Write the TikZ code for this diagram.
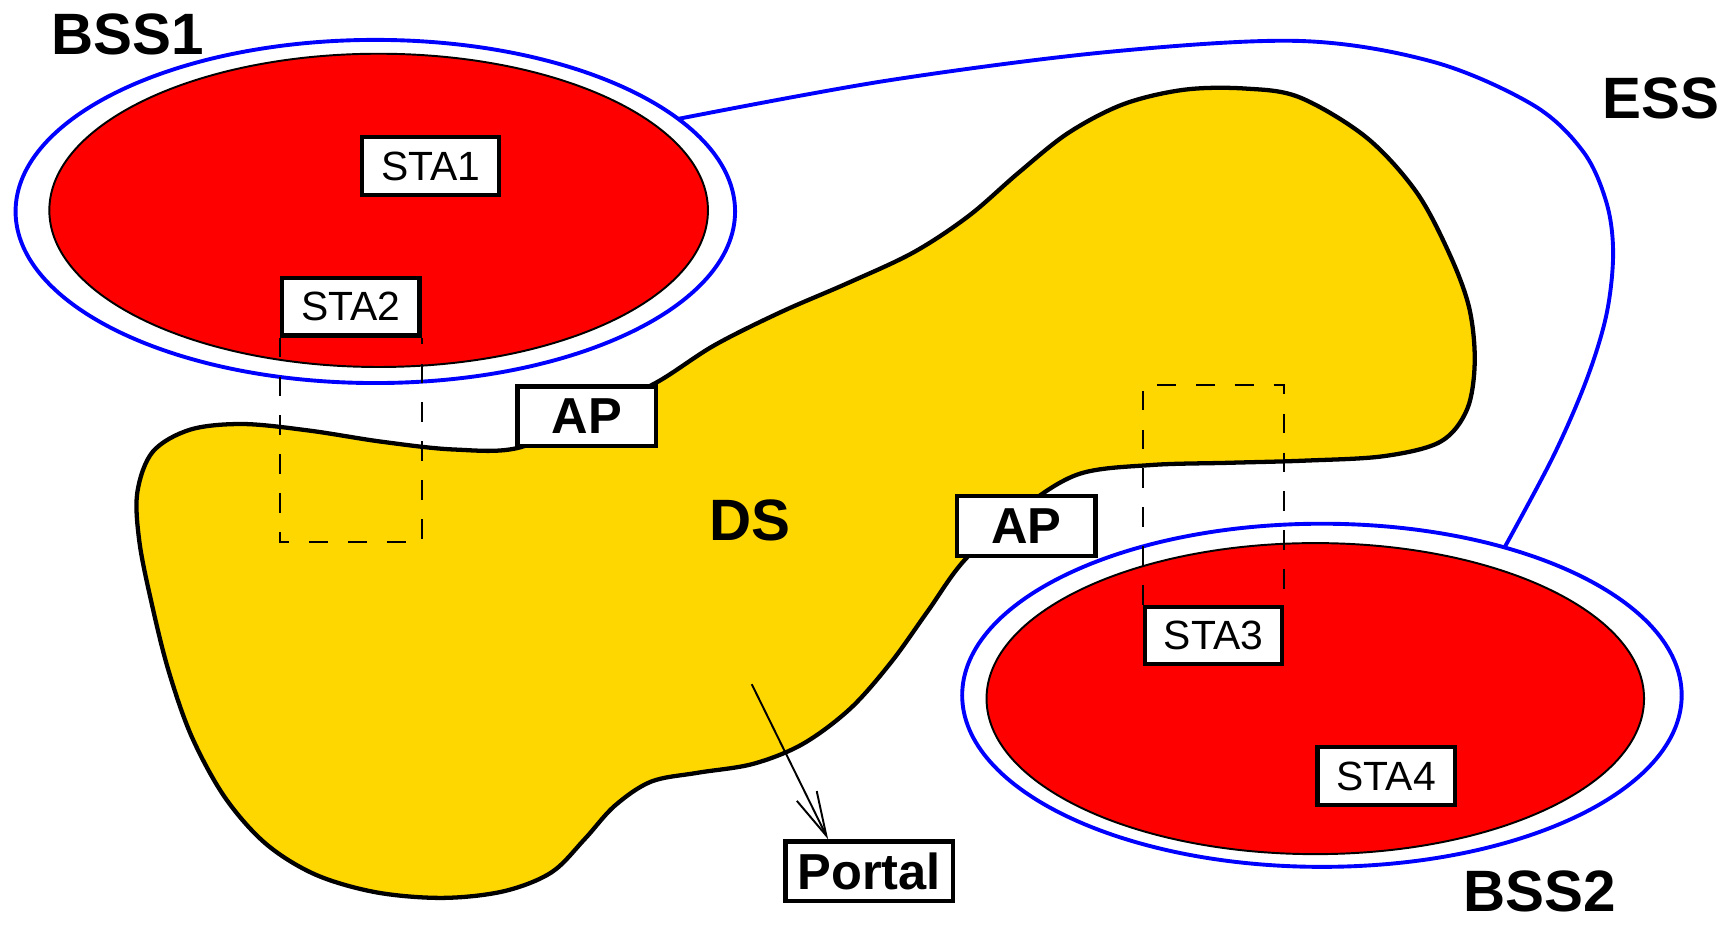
\documentclass[tikz,border=0pt]{standalone}
\usepackage{fontspec}
\setmainfont{Liberation Sans}
\usetikzlibrary{arrows.meta,shapes.geometric}
\definecolor{essblue}{HTML}{0000FF}
\definecolor{bssred}{HTML}{FF0000}
\definecolor{dsgold}{HTML}{FFD700}

\begin{document}
\begin{tikzpicture}[
  x=0.02cm, y=-0.02cm,
  font=\fontsize{21}{23}\selectfont,
  ring/.style={ellipse, draw=essblue, line width=2pt, inner sep=0pt, outer sep=0pt},
  cell/.style={ellipse, draw=black, fill=bssred, line width=1pt,
               inner sep=0pt, outer sep=0pt},
  sta/.style={draw, fill=white, line width=2.2pt, minimum width=2.48cm,
              minimum height=1.04cm, inner sep=0pt},
  ap/.style={sta, minimum width=2.5cm, minimum height=1.08cm,
             font=\fontsize{26}{28}\selectfont\bfseries},
  tag/.style={font=\fontsize{30}{32}\selectfont\bfseries},
  dsline/.style={draw=black, fill=dsgold, line width=2.2pt},
  essline/.style={draw=essblue, line width=2pt},
  reach/.style={line width=1pt, dash pattern=on 10pt off 10pt},
  link/.style={-{Straight Barb[length=8mm,width=4mm]}, line width=1pt},
]
\useasboundingbox (0,0) rectangle (1568,835);

% ---- Basic service sets -----------------------------------------------------
\node[ring, minimum width=13cm, minimum height=6.2cm] (bss1ring) at (339,191) {};
\node[cell, minimum width=11.9cm, minimum height=5.66cm] (bss1cell) at (342,190) {};
\node[ring, minimum width=13cm, minimum height=6.2cm] (bss2ring) at (1194,628) {};
\node[cell, minimum width=11.88cm, minimum height=5.62cm] (bss2cell) at (1188,631) {};

% ---- Extended service set outline -------------------------------------------
\draw[essline] plot[smooth, tension=0.55] coordinates {
  (bss1ring.17.5) (800,73) (1000,47) (1174,37) (1295,56) (1385,95)
  (1430,137) (1451,183) (1457,229) (1451,284) (1433,343) (1403,412)
  (bss2ring.39)};

% ---- Distribution system ----------------------------------------------------
\draw[dsline] plot[smooth cycle, tension=0.55] coordinates {
  (470,404) (535,372) (592,346) (645,312) (705,282) (765,256) (825,228)
  (875,195) (920,156) (965,120) (1015,94) (1070,81) (1125,80) (1174,88)
  (1234,124) (1279,173) (1309,229) (1327,278) (1332,327) (1325,370)
  (1301,399) (1250,412) (1180,416) (1110,418) (1040,420) (975,428)
  (925,458) (872,505) (838,552) (805,598) (768,640) (725,672) (680,690)
  (630,698) (588,706) (555,728) (528,758) (498,788) (455,805) (400,811)
  (340,806) (285,790) (240,762) (203,720) (173,665) (152,605) (137,545)
  (126,490) (124,445) (138,408) (172,388) (220,383) (280,389) (345,399)
  (410,406)};
\node[tag] (ds) at (677,470) {DS};

% ---- Stations and access points ---------------------------------------------
\node[sta] (sta1) at (389,150) {STA1};
\node[sta] (sta2) at (317,277) {STA2};
\node[sta] (sta3) at (1096,574) {STA3};
\node[sta] (sta4) at (1252,701) {STA4};

% roaming areas of STA2 and STA3
\draw[reach] (sta2.south west) -- ++(0,185) -| (sta2.south east);
\draw[reach] (sta3.north west) -- ++(0,-198) -| (sta3.north east);

\node[ap] (ap1) at (530,376) {AP};
\node[ap] (ap2) at (927,475) {AP};
\node[ap, minimum width=3.02cm] (portal) at (785,787) {Portal};

\coordinate (dsexit) at (679,618);
\draw[link] (dsexit) -- (portal.142);

% ---- Labels -----------------------------------------------------------------
\node[tag] (bss1) at (115,31) {BSS1};
\node[tag] (bss2) at (1391,805) {BSS2};
\node[tag] (ess) at (1500,89) {ESS};

\end{tikzpicture}
\end{document}
